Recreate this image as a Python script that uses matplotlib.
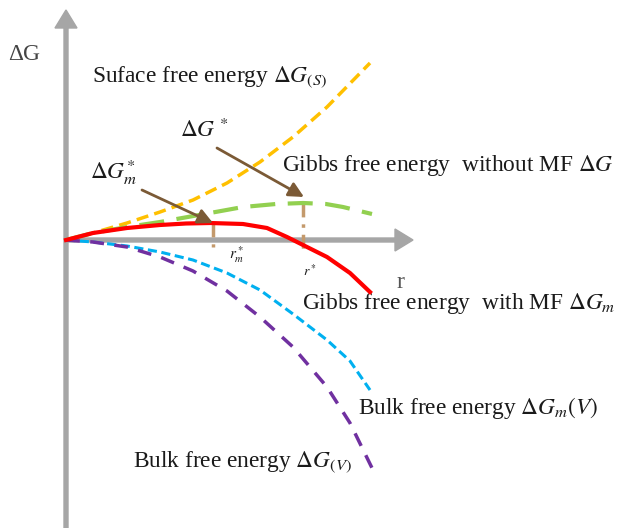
import matplotlib.pyplot as plt

plt.rcParams['font.family'] = ['Liberation Serif', 'DejaVu Serif']
plt.rcParams['mathtext.fontset'] = 'stix'

# curve points (r, dG), origin at the axis crossing
surface_r = [0, 27, 61, 94, 127, 161, 194, 227, 261, 304]
surface_g = [0, 7, 17, 28, 40, 57, 78, 103, 133, 177]

gibbs_r = [0, 27, 61, 94, 144, 177, 210, 237, 260, 277, 306]
gibbs_g = [0, 7, 13, 18, 27, 33, 36, 37, 36, 33, 26]

gibbs_m_r = [0, 27, 61, 94, 120, 144, 177, 201, 221, 237, 261, 284, 304]
gibbs_m_g = [0, 7, 12, 15, 16.5, 17, 16, 12, 3, -5, -17, -33, -52]

bulk_m_r = [0, 27, 61, 94, 127, 161, 194, 227, 261, 284, 304]
bulk_m_g = [0, -2, -6, -12, -20, -33, -50, -74, -100, -121, -150]

bulk_r = [0, 27, 61, 94, 127, 161, 194, 227, 261, 284, 306]
bulk_g = [0, -2, -7, -17, -31, -51, -77, -107, -147, -183, -228]

# critical radii: (r, top, bottom)
r_m_star = [147, 17, -7]
r_star = [237, 37, -10]

fig = plt.figure(figsize=(6.2, 5.28), dpi=100)
ax = fig.add_axes([0, 0, 1, 1])
ax.set_xlim(-66, 554)
ax.set_ylim(-288, 240)
ax.axis('off')

axis_col = '#a6a6a6'
ax.arrow(0, -288, 0, 518, width=4, head_width=22, head_length=18,
         length_includes_head=True, color=axis_col, zorder=1)
ax.arrow(0, 0, 347, 0, width=4, head_width=22, head_length=18,
         length_includes_head=True, color=axis_col, zorder=1)

ax.plot(surface_r, surface_g, color='#ffc000', lw=2.5, dashes=(3.5, 1.8), zorder=3)
ax.plot(gibbs_r, gibbs_g, color='#92d050', lw=3, dashes=(6, 3), zorder=3)
ax.plot(gibbs_m_r, gibbs_m_g, color='#ff0000', lw=3, zorder=4)
ax.plot(bulk_m_r, bulk_m_g, color='#00b0f0', lw=2.2, dashes=(3, 1.5), zorder=3)
ax.plot(bulk_r, bulk_g, color='#7030a0', lw=2.5, dashes=(4, 3), zorder=3)

mark_col = '#c49a6c'
for r, top, bot in (r_m_star, r_star):
    ax.plot([r, r], [top, bot], color=mark_col, lw=2.5, dashes=(4, 2, 1, 2), zorder=2)

arrow_col = '#7b5a36'
ax.annotate('', xy=(r_m_star[0], r_m_star[1]), xytext=(76, 50),
            arrowprops=dict(arrowstyle='-|>,head_length=0.9,head_width=0.45',
                            color=arrow_col, lw=2, shrinkA=0, shrinkB=0), zorder=5)
ax.annotate('', xy=(r_star[0] + 1, r_star[1] + 6), xytext=(151, 92),
            arrowprops=dict(arrowstyle='-|>,head_length=0.9,head_width=0.45',
                            color=arrow_col, lw=2, shrinkA=0, shrinkB=0), zorder=5)

tc = '#1a1a1a'
fs = 16.8
ax.text(-58, 186, 'ΔG', fontsize=fs, color='#444444', va='center')
ax.text(26, 163, r'Suface free energy $\Delta G_{(S)}$', fontsize=fs, color=tc, va='center')
ax.text(114, 110, r'$\Delta G$ $^{*}$', fontsize=fs, color=tc, va='center')
ax.text(24, 68, r'$\Delta G_m^{*}$', fontsize=fs, color=tc, va='center')
ax.text(216, 75, r'Gibbs free energy  without MF $\Delta G$', fontsize=fs, color=tc, va='center')
ax.text(171, -15, r'$r_m^*$', fontsize=11, color=tc, ha='center', va='center')
ax.text(244, -31, r'$r^*$', fontsize=10, color=tc, ha='center', va='center')
ax.text(334, -42, 'r', fontsize=17, color='#555555', ha='center', va='center')
ax.text(236, -63, r'Gibbs free energy  with MF $\Delta G_m$', fontsize=fs, color=tc, va='center')
ax.text(292, -168, r'Bulk free energy $\Delta G_m(V)$', fontsize=fs, color=tc, va='center')
ax.text(67, -222, r'Bulk free energy $\Delta G_{(V)}$', fontsize=fs, color=tc, va='center')

fig.savefig('out.png', dpi=100)
